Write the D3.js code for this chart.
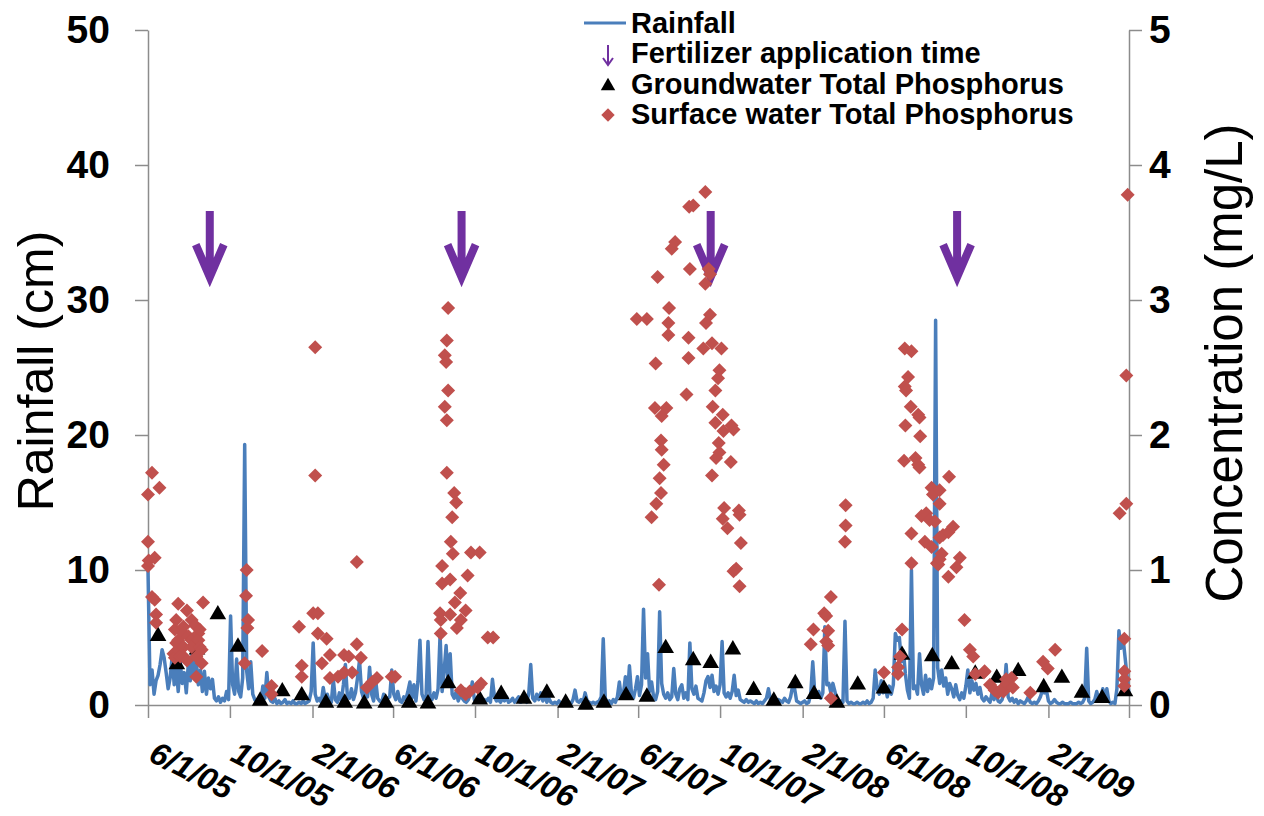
<!DOCTYPE html>
<meta charset="utf-8">
<script src="https://cdn.jsdelivr.net/npm/d3@7"></script>
<style>
  body { margin: 0; background: #fff; }
  text { font-family: "Liberation Sans", Arial, sans-serif; }
</style>
<body>
<script>
// ---- data ----
// rainfall (cm), one reading every 3 days starting 6/1/05
var rainStart = "6/1/05";
var rainStepDays = 3;
var rainfall = [
  10, 1.5, 2.6, 0.8, 1.8, 2.2, 3.0, 4.1, 3.5, 2.4, 1.2, 2.0, 3.6, 1.5, 2.8, 1.0, 3.2, 1.6, 2.4, 0.9,
  3.0, 1.8, 4.0, 2.2, 3.2, 1.5, 2.6, 1.0, 2.5, 0.8, 2.0, 1.2, 1.9, 0.5, 0.3, 0.6, 0.2, 0.5, 0.3, 1.0,
  0.4, 6.6, 1.5, 0.8, 3.4, 1.0, 0.6, 2.0, 19.3, 2.5, 1.2, 3.2, 0.8, 0.4, 0.2, 0.3, 0.2, 1.4, 0.5, 2.4,
  0.6, 0.3, 0.2, 0.5, 0.1, 0.3, 0.1, 0.2, 0.4, 0.1, 0.2, 0.1, 0.3, 0.1, 0.1, 0.2, 0.1, 0.3, 0.1, 0.2,
  0.3, 1.0, 4.6, 0.8, 0.3, 0.5, 0.2, 1.3, 0.4, 0.8, 0.3, 0.2, 1.9, 0.4, 0.2, 0.9, 0.3, 1.5, 3.0, 0.6,
  0.5, 1.2, 0.4, 0.9, 2.0, 3.3, 1.0, 0.5, 1.5, 0.6, 2.8, 0.8, 0.3, 1.9, 0.5, 0.3, 0.2, 0.8, 0.3, 0.5,
  0.6, 2.6, 0.8, 0.4, 1.0, 0.3, 0.2, 0.6, 0.4, 1.0, 1.7, 0.5, 1.5, 0.3, 1.7, 4.8, 0.8, 0.4, 0.5, 4.7,
  0.6, 0.4, 0.9, 0.5, 1.2, 5.2, 1.0, 2.5, 4.4, 1.5, 3.8, 0.8, 0.5, 1.0, 0.3, 0.7, 0.5, 0.3, 0.2, 0.4,
  0.8, 1.7, 0.4, 0.5, 0.3, 0.6, 0.2, 0.4, 0.3, 0.5, 0.2, 1.9, 0.6, 0.3, 0.4, 0.2, 0.5, 0.3, 0.6, 0.2,
  0.3, 0.5, 0.2, 0.4, 0.6, 0.2, 0.3, 0.5, 0.2, 0.8, 3.0, 0.5, 0.3, 0.8, 0.4, 0.9, 0.3, 0.7, 0.2, 0.5,
  0.2, 0.1, 0.2, 0.1, 0.3, 0.1, 0.2, 0.1, 0.3, 0.2, 0.1, 0.4, 1.1, 0.3, 0.2, 0.4, 0.2, 0.9, 0.3, 0.2,
  0.1, 0.2, 0.1, 0.2, 0.3, 0.6, 4.9, 0.5, 0.2, 0.3, 0.1, 0.4, 0.2, 0.6, 1.7, 0.5, 0.8, 2.1, 0.6, 2.9,
  0.9, 0.5, 1.2, 2.1, 0.7, 1.5, 7.1, 2.0, 3.8, 1.0, 1.7, 0.6, 0.4, 1.0, 6.9, 1.6, 0.8, 0.5, 0.9, 0.4,
  0.6, 2.7, 0.8, 0.4, 1.2, 1.5, 0.5, 0.9, 0.4, 4.6, 1.2, 0.8, 1.4, 0.5, 0.4, 0.3, 0.9, 1.8, 2.1, 1.3,
  2.2, 1.0, 1.4, 0.8, 1.5, 4.7, 0.9, 0.6, 0.9, 0.5, 1.0, 2.2, 0.7, 1.1, 0.4, 0.3, 0.2, 0.4, 0.2, 0.3,
  0.2, 0.1, 0.3, 0.1, 0.2, 0.1, 0.3, 0.5, 1.2, 0.4, 0.3, 0.5, 0.2, 0.4, 0.3, 0.2, 0.5, 0.3, 0.2, 0.6,
  1.4, 1.2, 0.3, 0.2, 0.1, 0.2, 0.3, 0.1, 0.2, 0.8, 3.2, 0.9, 0.6, 1.0, 0.5, 0.9, 5.8, 1.5, 1.6, 0.9,
  1.6, 1.0, 0.4, 0.2, 0.3, 0.2, 6.2, 0.3, 0.1, 0.2, 0.1, 0.1, 0.2, 0.1, 0.1, 0.2, 0.1, 0.3, 0.1, 0.2,
  0.5, 2.6, 1.2, 0.8, 1.8, 0.9, 1.4, 0.6, 1.4, 0.8, 1.5, 5.3, 4.8, 5.0, 3.2, 4.0, 2.3, 1.1, 0.5, 10.0,
  1.2, 1.4, 0.8, 3.8, 1.5, 0.8, 2.2, 1.0, 1.9, 1.2, 2.0, 28.5, 2.8, 1.6, 2.6, 1.4, 2.0, 0.8, 1.6, 1.2,
  0.6, 1.5, 0.7, 0.4, 0.9, 0.5, 1.4, 2.6, 0.9, 1.8, 1.1, 1.6, 0.8, 1.3, 0.5, 0.3, 0.6, 0.4, 0.2, 0.9,
  0.4, 0.9, 0.3, 0.2, 0.4, 1.0, 3.0, 0.6, 0.3, 0.5, 0.2, 0.4, 0.1, 0.3, 0.2, 0.1, 0.3, 0.6, 0.2, 0.1,
  0.2, 0.1, 0.3, 0.6, 1.1, 0.9, 1.1, 0.3, 0.1, 0.2, 0.4, 0.2, 0.1, 0.1, 0.2, 0.1, 0.1, 0.1, 0.2, 0.1,
  0.1, 0.1, 0.2, 0.1, 0.2, 0.5, 4.2, 0.3, 0.1, 0.2, 0.4, 1.0, 0.3, 0.6, 1.2, 0.5, 1.2, 0.3, 0.1, 0.2,
  0.1, 1.2, 5.5, 4.2, 5.0, 3.6, 2.2, 0.8
];

// groundwater total phosphorus (mg/L)
var gwDates = [
  "6/16/05", "7/14/05", "8/13/05", "9/13/05", "10/13/05", "11/15/05", "12/18/05", "1/16/06",
  "2/21/06", "3/21/06", "4/19/06", "5/21/06", "6/25/06", "7/23/06", "8/22/06", "10/8/06",
  "11/9/06", "12/13/06", "1/16/07", "2/13/07", "3/15/07", "4/11/07", "5/14/07", "6/14/07",
  "7/12/07", "8/22/07", "9/17/07", "10/20/07", "11/20/07", "12/20/07", "1/21/08", "2/18/08",
  "3/23/08", "4/23/08", "6/1/08", "6/28/08", "8/12/08", "9/10/08", "10/15/08", "11/16/08",
  "12/18/08", "1/25/09", "2/21/09", "3/23/09", "4/22/09", "5/26/09"
];
var gwTP = [
  0.51, 0.30, 0.41, 0.67, 0.43, 0.03, 0.10, 0.07,
  0.015, 0.015, 0.01, 0.015, 0.015, 0.01, 0.16, 0.04,
  0.08, 0.045, 0.09, 0.015, 0.0, 0.015, 0.07, 0.06,
  0.42, 0.33, 0.31, 0.41, 0.11, 0.03, 0.16, 0.08,
  0.015, 0.15, 0.12, 0.37, 0.36, 0.30, 0.23, 0.20,
  0.25, 0.13, 0.20, 0.09, 0.05, 0.10
];

// surface water total phosphorus (mg/L)
var swDates = [
  "6/1/05", "6/1/05", "6/1/05", "6/2/05", "6/7/05", "6/7/05", "6/11/05", "6/11/05", "6/13/05", "6/13/05",
  "6/18/05", "7/9/05", "7/11/05", "7/11/05", "7/13/05", "7/13/05", "7/16/05", "7/16/05", "7/16/05", "7/19/05",
  "7/24/05", "7/24/05", "7/24/05", "7/24/05", "7/29/05", "7/29/05", "7/31/05", "8/5/05", "8/5/05", "8/5/05",
  "8/10/05", "8/12/05", "8/12/05", "8/15/05", "8/15/05", "8/17/05", "8/17/05", "8/20/05", "8/20/05", "8/22/05",
  "10/23/05", "10/25/05", "10/26/05", "10/27/05", "10/28/05", "11/18/05", "12/2/05", "12/2/05", "1/12/06", "1/16/06",
  "1/16/06", "2/2/06", "2/5/06", "2/5/06", "2/9/06", "2/9/06", "2/15/06", "2/22/06", "2/27/06", "2/27/06",
  "3/11/06", "3/20/06", "3/20/06", "3/27/06", "4/1/06", "4/8/06", "4/8/06", "4/14/06", "4/23/06", "5/1/06",
  "5/8/06", "5/30/06", "6/4/06",
  "8/10/06", "8/11/06", "8/11/06", "8/13/06", "8/13/06", "8/17/06", "8/17/06", "8/19/06", "8/20/06", "8/20/06",
  "8/20/06", "8/22/06", "8/22/06", "8/25/06", "8/25/06", "8/26/06", "8/28/06", "8/29/06", "8/31/06", "9/1/06",
  "9/3/06", "9/4/06", "9/9/06", "9/10/06", "9/10/06", "9/17/06", "9/17/06", "9/20/06", "9/23/06", "9/25/06",
  "10/5/06", "10/8/06", "10/10/06", "10/20/06", "10/28/06",
  "5/30/07", "6/14/07", "6/21/07", "6/26/07", "6/27/07", "6/28/07", "6/30/07", "7/2/07", "7/3/07", "7/5/07",
  "7/5/07", "7/6/07", "7/6/07", "7/9/07", "7/13/07", "7/16/07", "7/16/07", "7/17/07", "7/21/07", "7/26/07",
  "8/12/07", "8/15/07", "8/15/07", "8/16/07", "8/17/07", "8/22/07", "9/6/07", "9/9/07", "9/9/07", "9/10/07",
  "9/14/07", "9/16/07", "9/16/07", "9/19/07", "9/19/07", "9/20/07", "9/24/07", "9/24/07", "9/25/07", "9/28/07",
  "9/29/07", "9/30/07", "9/30/07", "10/3/07", "10/5/07", "10/5/07", "10/6/07", "10/7/07", "10/12/07", "10/17/07",
  "10/18/07", "10/21/07", "10/21/07", "10/25/07", "10/29/07", "10/30/07", "10/30/07", "11/1/07",
  "2/13/08", "2/17/08", "3/4/08", "3/7/08", "3/7/08", "3/10/08", "3/10/08", "3/14/08", "3/14/08", "4/4/08",
  "4/5/08", "4/5/08", "6/1/08",
  "6/22/08", "6/22/08", "6/25/08", "6/28/08", "7/1/08", "7/2/08", "7/2/08", "7/3/08", "7/4/08", "7/7/08",
  "7/11/08", "7/12/08", "7/12/08", "7/12/08", "7/18/08", "7/22/08", "7/22/08", "7/24/08", "7/24/08", "7/25/08",
  "7/27/08", "8/1/08", "8/3/08", "8/8/08", "8/11/08", "8/11/08", "8/13/08", "8/16/08", "8/19/08", "8/21/08",
  "8/23/08", "8/23/08", "8/23/08", "8/23/08", "8/26/08", "8/28/08", "9/5/08", "9/5/08", "9/6/08", "9/12/08",
  "9/17/08", "9/22/08", "9/29/08", "10/7/08", "10/12/08", "10/15/08", "10/28/08", "10/29/08", "11/6/08", "11/13/08",
  "11/18/08", "11/24/08", "11/26/08", "11/30/08", "12/1/08", "12/8/08", "12/10/08", "1/5/09", "1/24/09", "1/31/09",
  "2/11/09", "5/18/09", "5/25/09", "5/25/09", "5/25/09", "5/25/09", "5/28/09", "5/28/09", "5/30/09"
];
var swTP = [
  1.56, 1.21, 1.03, 1.07, 1.72, 0.80, 1.09, 0.78, 0.67, 0.61,
  1.61, 0.38, 0.56, 0.35, 0.63, 0.46, 0.75, 0.48, 0.41, 0.36,
  0.58, 0.53, 0.43, 0.36, 0.70, 0.33, 0.51, 0.63, 0.48, 0.43,
  0.59, 0.36, 0.21, 0.53, 0.48, 0.56, 0.43, 0.41, 0.31, 0.76,
  0.31, 0.81, 1.00, 0.57, 0.63, 0.40, 0.14, 0.08, 0.58, 0.29,
  0.21, 0.68, 2.65, 1.70, 0.68, 0.53, 0.31, 0.49, 0.37, 0.20,
  0.21, 0.37, 0.24, 0.36, 0.24, 1.06, 0.45, 0.35, 0.13, 0.17,
  0.20, 0.21, 0.21,
  0.68, 0.63, 0.53, 1.03, 0.90, 2.59, 2.21, 2.54, 2.70, 2.11,
  1.72, 2.94, 2.33, 0.93, 0.67, 1.21, 1.39, 1.12, 1.57, 0.76,
  1.50, 0.57, 0.83, 0.63, 0.11, 0.70, 0.08, 0.96, 0.10, 1.13,
  0.13, 1.13, 0.16, 0.50, 0.50,
  2.86, 2.86, 1.39, 2.20, 2.53, 1.49, 3.17, 0.89, 1.68, 1.96,
  1.57, 2.14, 1.89, 1.78, 2.20, 2.83, 2.74, 2.94, 3.38, 3.43,
  2.30, 2.72, 2.57, 3.69, 3.23, 3.70, 2.64, 3.80, 3.12, 2.83,
  3.23, 3.19, 2.89, 2.68, 1.70, 2.21, 2.33, 2.09, 1.83, 2.42,
  1.94, 2.48, 1.87, 2.64, 2.15, 1.38, 2.03, 1.46, 1.31, 1.80,
  2.07, 2.04, 0.99, 1.01, 1.44, 1.41, 0.88, 1.20,
  0.45, 0.56, 0.68, 0.66, 0.47, 0.55, 0.44, 0.80, 0.05, 1.21,
  1.48, 1.33, 0.24,
  0.28, 0.23, 0.36, 0.56, 1.81, 2.64, 2.36, 2.07, 2.33, 2.43,
  2.21, 2.62, 1.27, 1.05, 1.83, 2.15, 1.78, 2.13, 1.76, 1.99,
  1.40, 1.21, 1.42, 1.37, 1.61, 1.17, 1.56, 1.36, 1.05, 1.04,
  1.59, 1.49, 1.24, 1.08, 1.12, 1.26, 1.28, 0.95, 1.69, 1.32,
  1.02, 1.09, 0.63, 0.41, 0.36, 0.23, 0.24, 0.25, 0.15, 0.11,
  0.09, 0.12, 0.10, 0.19, 0.16, 0.20, 0.13, 0.09, 0.32, 0.27,
  0.41, 1.42, 0.49, 0.25, 0.19, 0.14, 2.44, 1.49, 3.78
];

var fertDates = ["9/1/05", "9/11/06", "9/17/07", "9/18/08"];

var xTickLabels = ["6/1/05", "10/1/05", "2/1/06", "6/1/06", "10/1/06", "2/1/07",
                   "6/1/07", "10/1/07", "2/1/08", "6/1/08", "10/1/08", "2/1/09"];
var xEnd = "6/1/09";
var rainTicks = [0, 10, 20, 30, 40, 50];
var concTicks = [0, 1, 2, 3, 4, 5];
var legendLabels = ["Rainfall", "Fertilizer application time",
                    "Groundwater Total Phosphorus", "Surface water Total Phosphorus"];

// ---- chart ----
var width = 1264, height = 816;
var blue = "#4A7EBB", red = "#C0504D", purple = "#7030A0", axisColor = "#8C8C8C";
var parseDate = d3.timeParse("%m/%d/%y");

var svg = d3.select("body").append("svg")
    .attr("width", width)
    .attr("height", height);

var x = d3.scaleTime()
    .domain([parseDate(xTickLabels[0]), parseDate(xEnd)])
    .range([148, 1129]);
var yRain = d3.scaleLinear().domain([0, 50]).range([705, 30]);
var yConc = d3.scaleLinear().domain([0, 5]).range([705, 30]);

function styleAxis(g) {
    g.selectAll("path, line").attr("stroke", axisColor).attr("stroke-width", 1.5);
    g.selectAll("text")
        .attr("fill", "#000")
        .style("font-size", "39px")
        .style("font-weight", "bold")
        .style("font-family", '"Liberation Sans", Arial, sans-serif');
}

// left axis
svg.append("g")
    .attr("transform", "translate(148,0)")
    .call(d3.axisLeft(yRain).tickValues(rainTicks).tickSize(13).tickSizeOuter(0).tickPadding(25))
    .call(styleAxis);

// right axis
svg.append("g")
    .attr("transform", "translate(1129,0)")
    .call(d3.axisRight(yConc).tickValues(concTicks).tickSize(13).tickSizeOuter(0)
        .tickPadding(7).tickFormat(d3.format("d")))
    .call(styleAxis);

// bottom axis
var tickDates = xTickLabels.map(parseDate).concat([parseDate(xEnd)]);
svg.append("g")
    .attr("transform", "translate(0,705)")
    .call(d3.axisBottom(x).tickValues(tickDates).tickSize(13).tickSizeOuter(0).tickFormat(""))
    .call(styleAxis);

svg.append("g").selectAll("text")
    .data(xTickLabels)
    .enter().append("text")
    .attr("transform", function (d) { return "translate(" + (x(parseDate(d)) - 1) + ",760) rotate(27)"; })
    .attr("text-anchor", "start")
    .style("font-size", "32px")
    .style("font-weight", "bold")
    .style("font-style", "italic")
    .text(function (d) { return d; });

// axis titles
svg.append("text")
    .attr("transform", "translate(53,371) rotate(-90)")
    .attr("text-anchor", "middle")
    .style("font-size", "50px")
    .text("Rainfall (cm)");

svg.append("text")
    .attr("transform", "translate(1242,363) rotate(-90)")
    .attr("text-anchor", "middle")
    .style("font-size", "51px")
    .text("Concentration (mg/L)");

// rainfall line
var rainStartDate = parseDate(rainStart);
var rainSeries = rainfall.map(function (v, i) {
    return { date: d3.timeDay.offset(rainStartDate, i * rainStepDays), value: v };
});
var rainLine = d3.line()
    .x(function (d) { return x(d.date); })
    .y(function (d) { return yRain(d.value); });

svg.append("path")
    .datum(rainSeries)
    .attr("d", rainLine)
    .attr("fill", "none")
    .attr("stroke", blue)
    .attr("stroke-width", 3.5)
    .attr("stroke-linejoin", "round");

// fertilizer arrows
function arrowPath(cx, top, vertex, half, armY) {
    return "M" + cx + "," + top + "V" + vertex +
        "M" + (cx - half) + "," + armY + "L" + cx + "," + vertex + "L" + (cx + half) + "," + armY;
}
svg.append("g").selectAll("path")
    .data(fertDates)
    .enter().append("path")
    .attr("d", function (d) {
        var cx = x(parseDate(d));
        return arrowPath(cx, yRain(36.6), yRain(31.7), 14, yRain(34.1));
    })
    .attr("fill", "none")
    .attr("stroke", purple)
    .attr("stroke-width", 8)
    .attr("stroke-linejoin", "miter");

// groundwater triangles
var triangle = d3.symbol().type(d3.symbolTriangle).size(120);
svg.append("g").selectAll("path")
    .data(gwDates)
    .enter().append("path")
    .attr("d", triangle)
    .attr("transform", function (d, i) {
        return "translate(" + x(parseDate(d)) + "," + yConc(gwTP[i]) + ")";
    })
    .attr("fill", "#000");

// surface water diamonds
var diamond = d3.symbol().type(d3.symbolSquare).size(98);
svg.append("g").selectAll("path")
    .data(swDates)
    .enter().append("path")
    .attr("d", diamond)
    .attr("transform", function (d, i) {
        return "translate(" + x(parseDate(d)) + "," + yConc(swTP[i]) + ") rotate(45)";
    })
    .attr("fill", red);

// legend
var legendX = 608, textX = 631;
var legendBase = [33, 63, 94, 124];
var legend = svg.append("g");

legend.append("line")
    .attr("x1", 584).attr("x2", 626)
    .attr("y1", 23).attr("y2", 23)
    .attr("stroke", blue)
    .attr("stroke-width", 3);

legend.append("path")
    .attr("d", arrowPath(legendX, 45, 65, 5, 58))
    .attr("fill", "none")
    .attr("stroke", purple)
    .attr("stroke-width", 2);

legend.append("path")
    .attr("d", d3.symbol().type(d3.symbolTriangle).size(90)())
    .attr("transform", "translate(" + legendX + ",86)")
    .attr("fill", "#000");

legend.append("path")
    .attr("d", d3.symbol().type(d3.symbolSquare).size(90)())
    .attr("transform", "translate(" + legendX + ",115) rotate(45)")
    .attr("fill", red);

legend.selectAll("text")
    .data(legendLabels)
    .enter().append("text")
    .attr("x", textX)
    .attr("y", function (d, i) { return legendBase[i]; })
    .style("font-size", "29px")
    .style("font-weight", "bold")
    .text(function (d) { return d; });
</script>
</body>
